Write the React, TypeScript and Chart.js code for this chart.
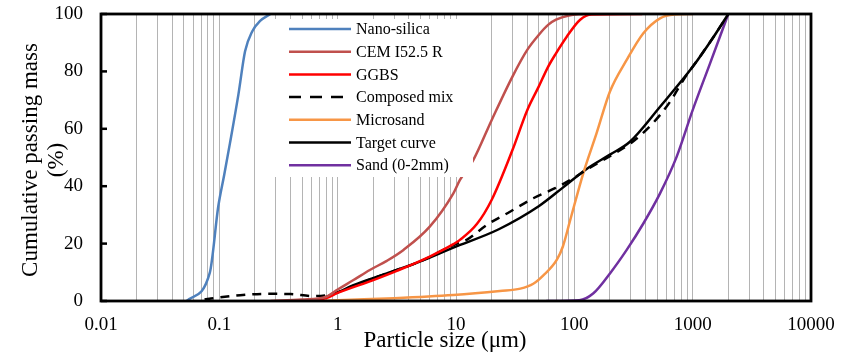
import React, { useEffect, useRef } from "react";
import { Chart, registerables } from "chart.js";

Chart.register(...registerables);

const FONT = "'Liberation Serif', 'Times New Roman', serif";

// Particle sizes (µm) and cumulative passing (%) per material
const nanoSilicaSize = [0.053, 0.083, 0.098, 0.11, 0.123, 0.145, 0.165, 0.19, 0.22, 0.27];
const nanoSilicaPass = [0, 9.8, 33, 44, 55, 72, 87, 94, 97.5, 100];

const cemSize = [0.27, 0.5, 0.8, 1, 1.36, 1.87, 2.6, 3.6, 6, 9.5, 10.8, 14, 20, 30, 40, 50, 60, 70, 90, 120];
const cemPass = [0, 0.5, 1.5, 4, 7.3, 10.8, 14, 17.8, 25.9, 37.5, 42.2, 49.1, 63, 78.2, 87.5, 92.7, 96.2, 98, 99.5, 100];

const ggbsSize = [0.5, 0.8, 1, 2, 3.2, 6, 9.5, 10.8, 15, 20, 30, 40, 50, 60, 70, 86, 112, 140, 375];
const ggbsPass = [0, 1, 2.8, 7.3, 10.6, 15.5, 19.8, 21.3, 26.8, 35.2, 52.6, 66.5, 74.7, 81.6, 86.3, 92, 98, 99.8, 100];

const composedSize = [0.075, 0.09, 0.15, 0.25, 0.4, 0.62, 0.8, 1, 1.4, 2.6, 5, 9.5, 12.3, 18.2, 28.6, 45, 68.7, 100, 130, 200, 300, 450, 644, 834, 1100, 1500, 2000];
const composedPass = [0.5, 1, 2, 2.5, 2.4, 1.7, 2, 3, 5.5, 9.6, 13.8, 19.5, 21.3, 26.5, 31.1, 35.8, 39.3, 43, 46, 50.5, 55, 61.5, 69.4, 77, 84, 92, 100];

const microsandSize = [0.7, 1, 3, 9.5, 23.5, 35, 45, 55, 71, 80, 92, 119, 154, 200, 277, 383, 530, 700, 1000];
const microsandPass = [0, 0.3, 1, 2.1, 3.5, 4.3, 6, 9, 14.3, 19, 28, 44.5, 58.4, 73, 84, 93.3, 98.5, 99.8, 100];

const targetSize = [0.65, 1, 1.36, 2.6, 5, 9.5, 23, 50, 80, 127, 200, 295, 530, 1000, 1500, 2000];
const targetPass = [0, 3, 5.5, 9.6, 13.8, 18.6, 25, 33, 39.5, 46, 51, 55.5, 67.7, 81.6, 92, 100];

const sandSize = [58, 110, 145, 200, 277, 383, 530, 733, 1000, 1403, 2000];
const sandPass = [0, 0.3, 2.7, 9.6, 17.8, 27, 37.5, 50.3, 66.5, 82.8, 100];

const seriesLabels = ["Nano-silica", "CEM I52.5 R", "GGBS", "Composed mix", "Microsand", "Target curve", "Sand (0-2mm)"];
const seriesColors = ["#4F81BD", "#C0504D", "#FF0000", "#000000", "#F79646", "#000000", "#7030A0"];

const yTicks = [0, 20, 40, 60, 80, 100];
const xDecades = [0.01, 0.1, 1, 10, 100, 1000, 10000];

const pts = (xs: number[], ys: number[]) => xs.map((x, i) => ({ x, y: ys[i] }));

const legendPlugin = {
  id: "boxLegend",
  afterDatasetsDraw(chart: any) {
    const ctx = chart.ctx;
    const x0 = 272, y0 = 19, x1 = 473, y1 = 177;
    ctx.save();
    ctx.fillStyle = "#ffffff";
    ctx.fillRect(x0, y0, x1 - x0, y1 - y0);
    chart.data.datasets.forEach((ds: any, i: number) => {
      const y = 29 + i * 22.7;
      ctx.beginPath();
      ctx.strokeStyle = ds.borderColor;
      ctx.lineWidth = 2.5;
      ctx.setLineDash(ds.borderDash && ds.borderDash.length ? [12, 9] : []);
      ctx.moveTo(289, y);
      ctx.lineTo(351, y);
      ctx.stroke();
      ctx.setLineDash([]);
      ctx.fillStyle = "#000";
      ctx.font = `16px ${FONT}`;
      ctx.textAlign = "left";
      ctx.textBaseline = "middle";
      ctx.fillText(ds.label, 356, y + 1);
    });
    ctx.restore();
  },
  afterDraw(chart: any) {
    const ctx = chart.ctx;
    const a = chart.chartArea;
    const ys = chart.scales.y;
    ctx.save();
    ctx.strokeStyle = "#000";
    ctx.lineWidth = 2.5;
    yTicks.forEach((v) => {
      const py = ys.getPixelForValue(v);
      ctx.beginPath();
      ctx.moveTo(a.left, py);
      ctx.lineTo(a.left + 6, py);
      ctx.stroke();
    });
    ctx.lineWidth = 2.8;
    ctx.strokeRect(a.left, a.top, a.right - a.left, a.bottom - a.top);
    ctx.fillStyle = "#000";
    ctx.font = `23px ${FONT}`;
    ctx.textAlign = "center";
    ctx.textBaseline = "middle";
    ctx.fillText("Particle size (\u03bcm)", 445, 341);
    ctx.translate(31, 160);
    ctx.rotate(-Math.PI / 2);
    ctx.fillText("Cumulative passing mass", 0, 0);
    ctx.fillText("(%)", 0, 26);
    ctx.restore();
  },
};

export default function App() {
  const ref = useRef<HTMLCanvasElement>(null);
  useEffect(() => {
    if (!ref.current) return;
    const xsList = [nanoSilicaSize, cemSize, ggbsSize, composedSize, microsandSize, targetSize, sandSize];
    const ysList = [nanoSilicaPass, cemPass, ggbsPass, composedPass, microsandPass, targetPass, sandPass];
    const datasets = seriesLabels.map((label, i) => ({
      label,
      data: pts(xsList[i], ysList[i]),
      borderColor: seriesColors[i],
      backgroundColor: seriesColors[i],
      borderWidth: 2.5,
      borderDash: label === "Composed mix" ? [9, 7] : [],
      pointRadius: 0,
      fill: false,
      cubicInterpolationMode: "monotone" as const,
    }));
    const chart = new Chart(ref.current, {
      type: "line",
      data: { datasets },
      plugins: [legendPlugin],
      options: {
        animation: false,
        responsive: true,
        maintainAspectRatio: false,
        layout: { padding: { left: 0, right: 35, top: 14, bottom: 0 } },
        plugins: { legend: { display: false }, tooltip: { enabled: false } },
        scales: {
          x: {
            type: "logarithmic",
            min: 0.01,
            max: 10000,
            afterBuildTicks: (scale: any) => {
              const t: { value: number }[] = [];
              for (let e = -2; e <= 4; e++) {
                for (let m = 1; m <= 9; m++) {
                  const v = m * Math.pow(10, e);
                  if (v > 10000) break;
                  t.push({ value: v });
                }
              }
              scale.ticks = t;
            },
            afterFit: (scale: any) => {
              scale.height = 54;
              scale.paddingLeft = 0;
              scale.paddingRight = 0;
            },
            grid: {
              display: true,
              color: "#b4b4b4",
              lineWidth: 1,
              drawTicks: false,
            },
            border: { display: false },
            ticks: {
              autoSkip: false,
              maxRotation: 0,
              padding: 13,
              color: "#000",
              font: { family: FONT, size: 19 },
              callback: (value: any) => {
                const v = Number(value);
                const d = xDecades.find((p) => Math.abs(p - v) / p < 1e-9);
                return d !== undefined ? String(d) : "";
              },
            },
          },
          y: {
            min: 0,
            max: 100,
            afterFit: (scale: any) => {
              scale.width = 101;
              scale.paddingTop = 0;
              scale.paddingBottom = 0;
            },
            grid: { display: false, drawTicks: false },
            border: { display: false },
            ticks: {
              stepSize: 20,
              padding: 18,
              color: "#000",
              font: { family: FONT, size: 19 },
            },
          },
        },
      },
    });
    return () => chart.destroy();
  }, []);
  return (
    <div style={{ position: "fixed", left: 0, top: 0, width: 846, height: 355, background: "#fff" }}>
      <canvas ref={ref} />
    </div>
  );
}
